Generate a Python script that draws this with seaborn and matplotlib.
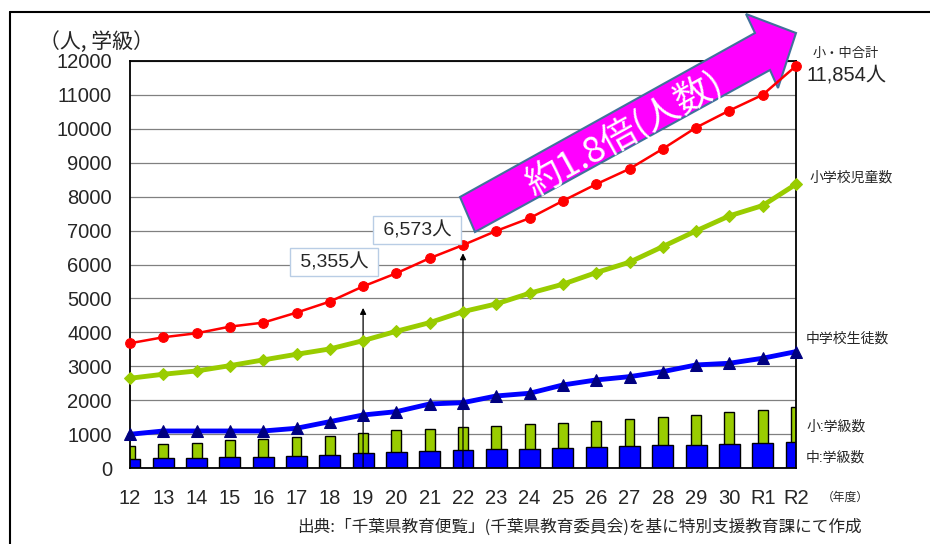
import numpy as np
import seaborn as sns
import matplotlib.pyplot as plt
from matplotlib.patches import Polygon
from matplotlib.lines import Line2D

# 年度 (H12 .. H30, R1, R2)
years = ["12", "13", "14", "15", "16", "17", "18", "19", "20", "21", "22",
         "23", "24", "25", "26", "27", "28", "29", "30", "R1", "R2"]

# 小・中合計 (人)
total = [3678, 3855, 3973, 4168, 4286, 4581, 4906, 5355, 5743, 6186, 6573,
         6991, 7366, 7876, 8368, 8820, 9410, 10038, 10540, 11003, 11854]
# 小学校児童数
elem_students = [2646, 2764, 2861, 3018, 3186, 3353, 3510, 3755, 4032, 4286, 4611,
                 4838, 5153, 5419, 5761, 6068, 6528, 6991, 7434, 7738, 8368]
# 中学校生徒数
mid_students = [994, 1091, 1091, 1091, 1091, 1171, 1366, 1563, 1661, 1888, 1926,
                2124, 2203, 2448, 2596, 2693, 2841, 3038, 3088, 3236, 3431]
# 小:学級数 / 中:学級数
elem_classes = [637, 708, 737, 814, 855, 914, 953, 1032, 1109, 1159, 1209,
                1248, 1307, 1327, 1376, 1435, 1504, 1573, 1642, 1701, 1789]
mid_classes = [275, 305, 305, 324, 324, 354, 383, 442, 472, 501, 521,
               550, 570, 600, 629, 659, 688, 688, 718, 747, 757]

# annotated years (index) and arrow tip heights
marked = [7, 10]
arrow_tips = [4720, 6330]

sns.set_style("white")
plt.rcParams["font.family"] = ["Liberation Sans", "Noto Sans CJK JP", "DejaVu Sans"]
JP = ["Noto Sans CJK JP", "DejaVu Sans"]

W, H = 930, 544


def px(x, y):
    # figure pixel (from top-left) -> figure fraction
    return x / W, 1 - y / H


fig, ax = plt.subplots(figsize=(9.3, 5.44), dpi=100)
fig.subplots_adjust(left=130 / W, right=796 / W, bottom=1 - 468 / H, top=1 - 61 / H)

pos = np.arange(len(years))
green = "#99cc00"
blue = "#0000ff"

# bars
sns.barplot(x=pos, y=elem_classes, native_scale=True, width=0.3, color=green,
            saturation=1, edgecolor="black", linewidth=1.0, errorbar=None, ax=ax, zorder=2)
sns.barplot(x=pos, y=mid_classes, native_scale=True, width=0.63, color=blue,
            saturation=1, edgecolor="black", linewidth=1.0, errorbar=None, ax=ax, zorder=2.1)

# lines
sns.lineplot(x=pos, y=mid_students, color=blue, linewidth=3.5, marker="^", markersize=9,
             markerfacecolor="#000080", markeredgecolor="#000080", ax=ax, zorder=4, clip_on=False)
sns.lineplot(x=pos, y=elem_students, color=green, linewidth=3.5, marker="D", markersize=6,
             markerfacecolor=green, markeredgecolor=green, ax=ax, zorder=4, clip_on=False)
sns.lineplot(x=pos, y=total, color="#ff0000", linewidth=1.8, marker="o", markersize=7,
             markerfacecolor="#ff0000", markeredgecolor="#ff0000", ax=ax, zorder=5, clip_on=False)

ax.set_xlim(0, len(years) - 1)
ax.set_ylim(0, 12000)
ax.set_yticks(np.arange(0, 12001, 1000))
ax.set_xticks(pos, years)
ax.tick_params(axis="x", length=0, pad=15, labelsize=14.5)
ax.tick_params(axis="y", length=0, pad=13, labelsize=14.5)
ax.yaxis.grid(True, color="#808080", linewidth=0.9)
ax.set_axisbelow(True)
ax.set_xlabel("")
ax.set_ylabel("")
for s in ax.spines.values():
    s.set_color("black")
    s.set_linewidth(1.3)

# value call-outs with arrows
label_pos = [(6.13, 6073), (8.62, 7017)]
for i, tip, (lx, ly) in zip(marked, arrow_tips, label_pos):
    ax.annotate("", xy=(i, tip), xytext=(i, 0),
                arrowprops=dict(arrowstyle="-|>", color="black", lw=0.9,
                                mutation_scale=9, shrinkA=0, shrinkB=0), zorder=3)
    ax.text(lx, ly, f" {total[i]:,}人 ", ha="center", va="center", fontsize=14, zorder=6,
            bbox=dict(boxstyle="square,pad=0.25", fc="white", ec="#b9cde5", lw=1))

# big magenta arrow
arrow_px = [(475, 232), (460, 197), (755, 33), (746, 14), (796, 33), (778, 88), (770, 70)]
big_arrow = Polygon([px(x, y) for x, y in arrow_px], closed=True, transform=fig.transFigure,
                    facecolor="#ff00ff", edgecolor="#41719c", lw=1.5, clip_on=False, zorder=2.7)
ax.add_patch(big_arrow)
ax.text(*px(624, 134), "約1.8倍(人数)", transform=fig.transFigure, rotation=29,
        rotation_mode="anchor", ha="center", va="center", color="white",
        fontsize=26, family=JP, zorder=2.8)

# right side labels
fig.text(*px(813, 54), "小・中合計", fontsize=9.5, family=JP, va="center")
fig.text(*px(806, 75), f"{total[-1]:,}人", fontsize=14.5, va="center")
fig.text(*px(809, 178), "小学校児童数", fontsize=10, family=JP, va="center")
fig.text(*px(806, 339), "中学校生徒数", fontsize=10, family=JP, va="center")
fig.text(*px(806, 427), "小:学級数", fontsize=10, va="center")
fig.text(*px(806, 458), "中:学級数", fontsize=10, va="center")
fig.text(*px(822, 497), "（年度）", fontsize=8.5, family=JP, va="center")

# unit label and source
fig.text(*px(96, 42), "（人, 学級）", fontsize=15, family=JP, ha="center", va="center")
fig.text(*px(579, 527), "出典:「千葉県教育便覧」(千葉県教育委員会)を基に特別支援教育課にて作成",
         fontsize=12, family=JP, ha="center", va="center")

# outer frame
fig.add_artist(Line2D([9.5 / W, 9.5 / W], [0, 1 - 12 / H], color="black", lw=1.5))
fig.add_artist(Line2D([9.5 / W, 1], [1 - 12 / H, 1 - 12 / H], color="black", lw=1.5))

fig.savefig("out.png", dpi=100)
